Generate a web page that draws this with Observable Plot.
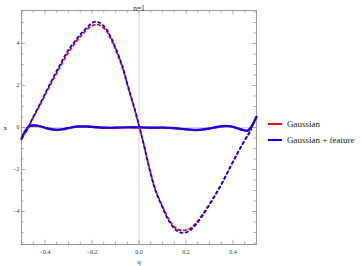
<!DOCTYPE html>
<html>
<head>
<meta charset="utf-8">
<script src="https://cdn.jsdelivr.net/npm/d3@7"></script>
<script src="https://cdn.jsdelivr.net/npm/@observablehq/plot@0.6"></script>
<style>
  html, body { margin: 0; padding: 0; background: white; }
  #wrap { position: relative; width: 362px; height: 266px; font-family: "Liberation Serif", serif; }
  .leg { position: absolute; left: 268px; font-size: 9px; color: #222; display: flex; align-items: center; white-space: nowrap; font-family: "Liberation Serif", serif; }
  .leg span.sw { display: inline-block; width: 14px; height: 2px; margin-right: 5px; }
</style>
</head>
<body>
<div id="wrap"></div>
<script>
// ---- data ----
const qDash = [-0.48, -0.465, -0.45, -0.42, -0.38, -0.34, -0.3, -0.27, -0.24, -0.21, -0.19, -0.17, -0.14, -0.12, -0.1, -0.07, -0.045, -0.02, 0, 0.02, 0.045, 0.07, 0.1, 0.13, 0.16, 0.186, 0.21, 0.24, 0.27, 0.31, 0.35, 0.39, 0.42, 0.445, 0.465, 0.478];
const dashFeature = [-0.2, 0.15, 0.5, 1.15, 2.05, 2.9, 3.7, 4.15, 4.55, 4.88, 5.03, 5.0, 4.7, 4.3, 3.8, 2.9, 1.9, 0.95, 0.1, -0.8, -2.0, -3.0, -3.8, -4.5, -4.9, -5.02, -4.95, -4.65, -4.2, -3.5, -2.72, -1.85, -1.2, -0.7, -0.33, -0.1];
const dashGauss = [-0.2, 0.15, 0.48, 1.1, 1.98, 2.8, 3.58, 4.05, 4.45, 4.77, 4.88, 4.88, 4.62, 4.22, 3.72, 2.82, 1.85, 0.9, 0.08, -0.78, -1.95, -2.95, -3.75, -4.42, -4.82, -4.9, -4.85, -4.58, -4.14, -3.46, -2.7, -1.84, -1.2, -0.7, -0.33, -0.1];

const qSolid = [-0.5, -0.49, -0.48, -0.47, -0.46, -0.445, -0.42, -0.39, -0.355, -0.32, -0.29, -0.255, -0.22, -0.18, -0.14, -0.1, -0.06, -0.02, 0.02, 0.06, 0.1, 0.14, 0.18, 0.21, 0.245, 0.28, 0.32, 0.355, 0.39, 0.42, 0.445, 0.462, 0.475, 0.488, 0.5];
const solidFeature = [-0.54, -0.3, -0.1, 0.04, 0.09, 0.1, 0.06, -0.04, -0.1, -0.07, 0.0, 0.05, 0.05, 0.02, -0.01, -0.01, 0.01, 0.01, 0.0, -0.01, 0.0, -0.02, -0.06, -0.09, -0.11, -0.08, 0.0, 0.07, 0.06, -0.04, -0.12, -0.15, -0.02, 0.24, 0.5];
const solidGauss = [-0.54, -0.3, -0.1, 0.03, 0.08, 0.09, 0.05, -0.05, -0.12, -0.08, -0.01, 0.04, 0.04, 0.01, -0.02, -0.01, 0.0, 0.01, 0.0, -0.02, -0.01, -0.03, -0.07, -0.1, -0.13, -0.09, -0.01, 0.05, 0.05, -0.05, -0.13, -0.16, -0.03, 0.23, 0.5];

const xMajor = [-0.4, -0.2, 0, 0.2, 0.4];
const xMinor = [-0.45, -0.35, -0.3, -0.25, -0.15, -0.1, -0.05, 0.05, 0.1, 0.15, 0.25, 0.3, 0.35, 0.45];
const yMajor = [-4, -2, 0, 2, 4];
const yMinor = [-5.5, -5, -4.5, -3.5, -3, -2.5, -1.5, -1, -0.5, 0.5, 1, 1.5, 2.5, 3, 3.5, 4.5, 5, 5.5];

const titleText = "n=1";
const xLabel = "q";
const yLabel = "x";
const seriesNames = ["Gaussian", "Gaussian + feature"];
const seriesColors = ["red", "blue"];

// ---- build ----
const X0 = -0.5, X1 = 0.5, Y0 = -5.57, Y1 = 5.57;
const toRows = (qs, vs) => qs.map((q, i) => ({q, v: vs[i]}));
const dF = toRows(qDash, dashFeature), dG = toRows(qDash, dashGauss);
const sF = toRows(qSolid, solidFeature), sG = toRows(qSolid, solidGauss);

const tickCol = "#888";
const xTickRules = (arr, len, edge, dir) => Plot.ruleX(arr, {x: d => d, y1: edge, y2: edge + dir * len, stroke: tickCol, strokeWidth: 0.7});
const yTickRules = (arr, len, edge, dir) => Plot.ruleY(arr, {y: d => d, x1: edge, x2: edge + dir * len, stroke: tickCol, strokeWidth: 0.7});
const fmt = d => (d < 0 ? "\u2212" : "") + Math.abs(d).toFixed(1);
const fmtY = d => (d < 0 ? "\u2212" : "") + Math.abs(d);

const chart = Plot.plot({
  width: 362,
  height: 266,
  marginLeft: 21,
  marginRight: 106,
  marginTop: 10,
  marginBottom: 22,
  x: {domain: [X0, X1]},
  y: {domain: [Y0, Y1]},
  style: {fontFamily: "Liberation Serif", fontSize: "6px", background: "white", color: "#333", overflow: "visible"},
  marks: [
    Plot.ruleX([0], {stroke: "#ccc", strokeWidth: 0.8}),
    Plot.ruleY([0], {stroke: "#ccc", strokeWidth: 0.8}),
    Plot.frame({stroke: "#999", strokeWidth: 1}),
    xTickRules(xMajor, 0.2, Y0, 1), xTickRules(xMinor, 0.12, Y0, 1),
    xTickRules(xMajor, 0.2, Y1, -1), xTickRules(xMinor, 0.12, Y1, -1),
    yTickRules(yMajor, 0.017, X0, 1), yTickRules(yMinor, 0.011, X0, 1),
    yTickRules(yMajor, 0.017, X1, -1), yTickRules(yMinor, 0.011, X1, -1),
    Plot.axisX({ticks: xMajor, tickSize: 0, tickPadding: 5, tickFormat: fmt, label: null, fontSize: 6, fill: "#333"}),
    Plot.axisY({ticks: yMajor, tickSize: 0, tickPadding: 2, tickFormat: fmtY, label: null, fontSize: 6, fill: "#333"}),
    Plot.line(sG, {x: "q", y: "v", stroke: seriesColors[0], strokeWidth: 2.2, curve: "catmull-rom"}),
    Plot.line(sF, {x: "q", y: "v", stroke: seriesColors[1], strokeWidth: 2.2, strokeOpacity: 0.95, curve: "catmull-rom"}),
    Plot.line(dG, {x: "q", y: "v", stroke: seriesColors[0], strokeWidth: 1.8, strokeDasharray: "2.4,3.2", strokeDashoffset: 2.8, curve: "catmull-rom"}),
    Plot.line(dF, {x: "q", y: "v", stroke: seriesColors[1], strokeWidth: 1.8, strokeDasharray: "2.4,3.2", curve: "catmull-rom"}),
    Plot.text([titleText], {frameAnchor: "top", dy: -5, fontSize: 7.5, fill: "#222"}),
    Plot.text([xLabel], {frameAnchor: "bottom", dy: 19, fontSize: 7, fill: "#222"}),
    Plot.text([yLabel], {frameAnchor: "left", dx: -18, fontSize: 7, fill: "#222"})
  ]
});

const wrap = document.getElementById("wrap");
wrap.appendChild(chart);
seriesNames.forEach((name, i) => {
  const row = document.createElement("div");
  row.className = "leg";
  row.style.top = (i === 0 ? 118 : 134) + "px";
  row.style.height = "11px";
  const sw = document.createElement("span");
  sw.className = "sw";
  sw.style.background = seriesColors[i];
  const t = document.createElement("span");
  t.textContent = name;
  row.appendChild(sw);
  row.appendChild(t);
  wrap.appendChild(row);
});
</script>
</body>
</html>
